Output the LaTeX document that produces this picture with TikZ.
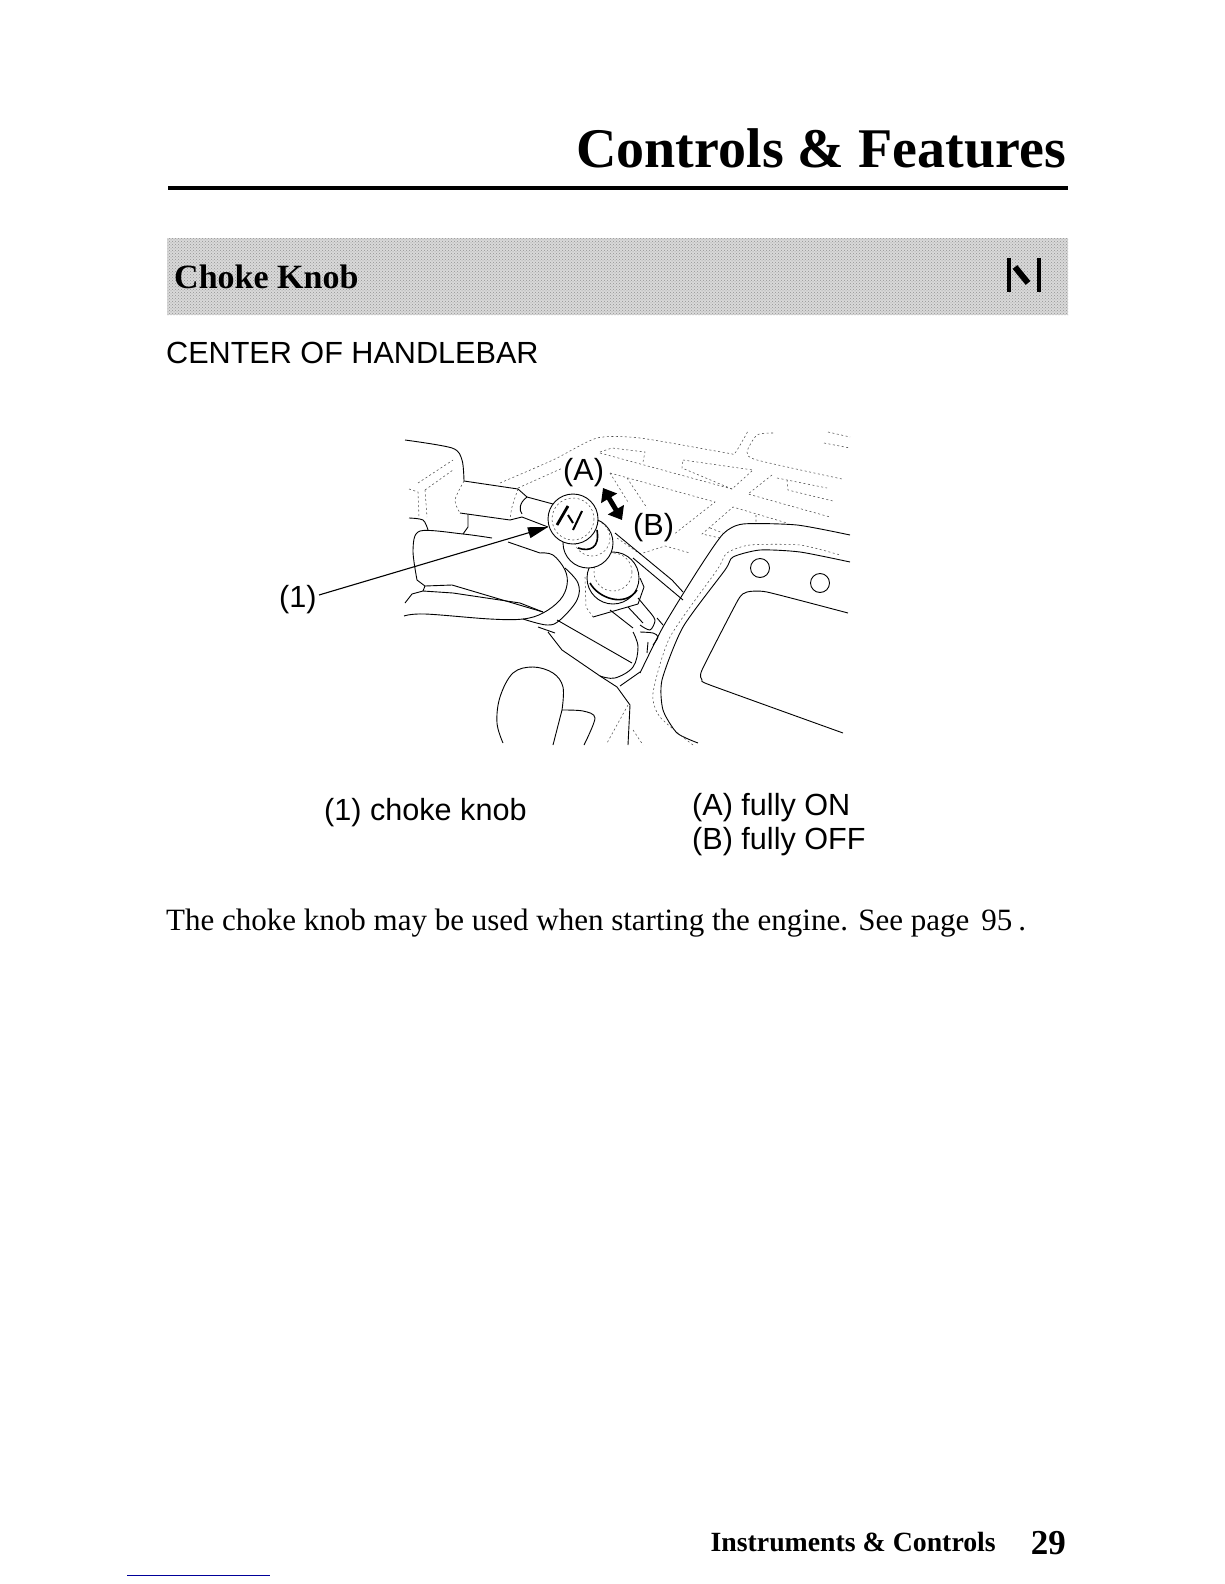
\documentclass[tikz,border=0pt]{standalone}
\usepackage{fontspec}
\setmainfont{Liberation Serif}
\setsansfont{Liberation Sans}
\usetikzlibrary{arrows.meta, patterns}
\tikzset{
	inkline/.style={line width=0.9pt, line join=round},
	faintline/.style={line width=0.55pt, dash pattern=on 2pt off 2.5pt, black!70},
	sanslabel/.style={font=\sffamily\fontsize{30.6}{30.6}\selectfont, inner sep=0pt, anchor=base west},
	bodytext/.style={font=\fontsize{31}{31}\selectfont, inner sep=0pt, anchor=base west},
	boldtext/.style={font=\bfseries, inner sep=0pt, anchor=base east}
}
\begin{document}
\begin{tikzpicture}[x=1pt,y=-1pt]
		\useasboundingbox (0,0) rectangle (1224,1584);
		% page head
		\node[boldtext, font=\bfseries\fontsize{56}{56}\selectfont] (title) at (1066,167) {Controls \& Features};
		\draw[line width=4pt] (168,188) -- (1068,188);
		\fill[gray!30] (167,238) rectangle (1068,315);
		\fill[pattern=crosshatch dots, pattern color=gray!85] (167,238) rectangle (1068,315);
		\node[boldtext, anchor=base west, font=\bfseries\fontsize{34}{34}\selectfont] (section) at (174,288) {Choke Knob};
		\draw[line width=3.5pt] (1009,258) -- (1009,292) (1039,258) -- (1039,292);
		\draw[line width=6pt] (1015,267) -- (1028,283);
		\node[sanslabel] (place) at (166,363) {CENTER OF HANDLEBAR};
		% background, dotted
		\draw[faintline] plot[smooth,tension=.4] coordinates {(500,483) (553,460) (597,438) (640,438) (727,453) (735,453) (748,431)};
		\draw[faintline] plot[smooth,tension=.4] coordinates {(773,433) (757,435) (747,452) (757,460) (842,479)};
		\draw[faintline] (518,488) -- (565,467);
		\draw[faintline] (828,432) -- (850,437) (824,443) -- (850,448);
		\draw[faintline] (683,460) -- (753,470) -- (732,489) -- (682,468) -- cycle;
		\draw[faintline] (600,452) -- (612,448) -- (645,452) -- (643,462);
		\draw[faintline] (600,453) -- (732,489);
		\draw[faintline] (610,473) -- (715,502) -- (673,535);
		\draw[faintline] (610,473) -- (628,502) (627,478) -- (647,508);
		\draw[faintline] (772,475) -- (748,494) -- (830,517);
		\draw[faintline] (777,478) -- (827,488) (787,480) -- (788,490) -- (833,501);
		\draw[faintline] (720,538) -- (702,534) -- (733,507) -- (787,523) (710,528) -- (723,533) (756,515) -- (756,524);
		\draw[faintline] (617,538) -- (640,554) -- (665,546) -- (690,553);
		\draw[faintline] (418,483) -- (453,460) (425,490) -- (453,470) (409,489) -- (418,492) -- (419,517) (425,490) -- (427,517);
		% bars of the handlebar
		\draw[inkline] plot[smooth,tension=.5] coordinates {(405,440) (452,448) (462,460) (464,481)};
		\draw[inkline] (464,481) -- (518,489) (527,497) -- (553,504);
		\draw[faintline] plot[smooth] coordinates {(464,481) (455,500) (460,513)};
		\draw[inkline] (460,513) -- (510,520) -- (522,517) -- (548,527);
		\draw[faintline] plot[smooth] coordinates {(518,489) (512,507) (510,520)};
		\draw[inkline] (518,489) -- (527,497) (527,497) .. controls (519,503) and (519,510) .. (522,514);
		\draw[inkline] (468,514) -- (468,527) -- (463,534);
		\draw[inkline] plot[smooth] coordinates {(409,518) (423,520) (428,530)};
		\draw[inkline] plot[smooth,tension=.5] coordinates {(417,580) (413,550) (420,531) (463,534) (492,538)};
		\draw[inkline] (508,542) -- (540,553);
		\draw[inkline] (417,580) -- (425,586) -- (423,591) -- (412,594) -- (405,603);
		\draw[inkline] (425,586) -- (452,585) -- (543,612);
		\draw[inkline] (423,591) -- (453,593) -- (520,603) -- (543,612);
		% grip collar
		\draw[inkline] plot[smooth,tension=.6] coordinates {(404,616) (425,614) (490,619) (523,619) (543,613) (560,600) (567,585) (565,570) (553,555) (540,553)};
		\draw[inkline] plot[smooth,tension=.6] coordinates {(523,619) (547,625) (560,620) (577,600) (578,583) (565,568)};
		\draw[inkline] (538,627) -- (555,633) (548,632) -- (562,650) -- (600,676);
		\draw[inkline] (557,620) -- (632,663);
		\draw[inkline] plot[smooth,tension=.6] coordinates {(600,676) (615,678) (633,667) (638,647) (633,632)};
		\draw[inkline] (600,676) -- (617,687) -- (630,705) -- (628,745) (620,686) -- (640,672);
		% stem below the knob
		\draw[inkline] (615,533) -- (672,580) -- (683,592) (633,558) -- (683,600);
		\draw[inkline] (610,610) -- (633,628) (628,607) -- (643,623) (638,598) -- (648,610);
		\draw[inkline] plot[smooth] coordinates {(648,610) (655,620) (650,630) (640,625)};
		\draw[inkline] (657,618) -- (663,625) (648,642) -- (647,653);
		\draw[inkline] plot[smooth] coordinates {(640,632) (653,633) (658,637) (653,645)};
		\draw[faintline] (585,577) -- (586,607) -- (593,617);
		\draw[inkline] (593,617) -- (638,604) -- (644,587) -- (640,578);
		% knob
		\draw[inkline, fill=white] (613,578) circle (26);
		\draw[faintline] (613,572) circle (19);
		\draw[line width=1.6pt] (590,583) .. controls (598,598) and (625,608) .. (637,590);
		\draw[inkline, fill=white] (588,543) circle (25);
		\draw[faintline] (592,538) circle (18);
		\draw[line width=1.6pt] (578,548) .. controls (590,552) and (600,548) .. (597,530);
		\draw[inkline, fill=white] (573,519) circle (25);
		\draw[faintline] (573,519) circle (21);
		\draw[line width=2.8pt] (568,506) -- (557,525);
		\draw[line width=2pt] (568,515) -- (573,523);
		\draw[line width=2pt] (582,511) -- (573,530);
		% thumb
		\draw[inkline] plot[smooth,tension=.6] coordinates {(503,743) (497,723) (500,697) (513,673) (533,667) (553,673) (563,687) (562,710)};
		\draw[inkline] (562,710) -- (553,745);
		\draw[inkline] plot[smooth,tension=.5] coordinates {(562,710) (583,711) (595,718) (584,745)};
		\draw[faintline] (628,705) -- (607,743) (633,730) -- (643,745);
		% dash panel
		\draw[inkline] plot[smooth,tension=.4] coordinates {(640,673) (663,627) (698,570) (723,534) (743,524) (797,525) (850,535)};
		\draw[inkline] plot[smooth,tension=.4] coordinates {(698,743) (677,733) (663,710) (662,680) (683,627) (725,570) (733,557) (760,550) (800,552) (850,562)};
		\draw[faintline] plot[smooth,tension=.4] coordinates {(693,745) (660,717) (653,693) (670,637) (717,570) (727,553) (750,545) (800,545) (840,555)};
		\draw[inkline] (760,568) circle (9.5);
		\draw[inkline] (820,583) circle (9.5);
		\draw[inkline] plot[smooth,tension=.3] coordinates {(848,613) (767,592) (747,592) (738,600) (702,670) (702,680) (710,685) (843,733)};
		% labels and arrows
		\node[sanslabel, fill=white, inner sep=1pt] (labA) at (562,480) {(A)};
		\node[sanslabel, fill=white, inner sep=1pt] (labB) at (632,535) {(B)};
		\node[sanslabel] (labK) at (279,607) {(1)};
		\coordinate (startK) at (319,595);
		\coordinate (tipK) at (548,527);
		\coordinate (tipA) at (603,488);
		\coordinate (tipB) at (622,520);
		\draw[line width=1.1pt, -{Triangle[length=20pt,width=11pt]}] (startK) -- (tipK);
		\draw[line width=5pt, {Triangle[length=12pt,width=18pt]}-{Triangle[length=12pt,width=18pt]}] (tipA) -- (tipB);
		\node[sanslabel] (capK) at (324,820) {(1) choke knob};
		\node[sanslabel] (capA) at (692,815) {(A) fully ON};
		\node[sanslabel] (capB) at (692,849) {(B) fully OFF};
		\node[bodytext] (note) at (166,930) {The choke knob may be used when starting the engine. See page\hspace{12pt}95\hspace{6pt}.};
		% foot
		\node[boldtext, font=\bfseries\fontsize{27.8}{27.8}\selectfont] (foot) at (996,1551) {Instruments \& Controls};
		\node[boldtext, font=\bfseries\fontsize{35}{35}\selectfont] (page) at (1066,1554) {29};
		\draw[blue!60!black, line width=1pt] (127,1575) -- (270,1575);
		\end{tikzpicture}
\end{document}
